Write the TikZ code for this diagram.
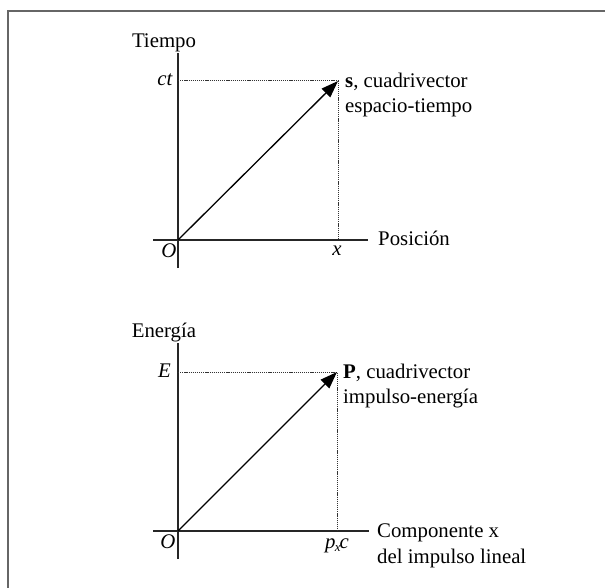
\documentclass[tikz,border=0pt]{standalone}
\usepackage{fontspec}
\setmainfont{Liberation Serif}
\usetikzlibrary{arrows.meta}
\begin{document}
\begin{tikzpicture}[x=1pt,y=-1pt,
  lbl/.style={font=\fontsize{20.8}{25}\selectfont, inner sep=0pt},
  axis/.style={line width=1.4pt, black!85},
  guide/.style={line width=1pt, black!80, dash pattern=on 1.2pt off 0.9pt},
  vec/.style={line width=1.3pt, -{Triangle[length=17pt,width=12pt]}},
  frame/.style={line width=2pt, black!60}]
\useasboundingbox (0,0) rectangle (605,588);
\draw[frame] (7.5,588) -- (7.5,11) -- (605,11);

% ---- top diagram
\coordinate (o1) at (178,240);
\coordinate (yt1) at (178,53);
\coordinate (yb1) at (178,268);
\coordinate (xl1) at (153,240);
\coordinate (xr1) at (368,240);
\coordinate (s) at (338,81);
\coordinate (ct) at (178,81);
\coordinate (xp) at (338,240);
\draw[axis] (yb1) -- (yt1);
\draw[axis] (xl1) -- (xr1);
\draw[guide] (ct) -- (s) -- (xp);
\draw[vec] (o1) -- (s);
\node[lbl, anchor=base] (tiempo) at (164,48) {Tiempo};
\node[lbl, anchor=base east] (ctl) at (173,86) {\textit{ct}};
\node[lbl, anchor=base] (O1) at (169,257) {\textit{O}};
\node[lbl, anchor=base] (xl) at (337,255) {\textit{x}};
\node[lbl, anchor=base west] (pos) at (378,246) {Posición};
\node[lbl, anchor=base west] (s1) at (345,88) {\textbf{s}, cuadrivector};
\node[lbl, anchor=base west] (s2) at (345,113) {espacio-tiempo};

% ---- bottom diagram
\coordinate (o2) at (178,531);
\coordinate (yt2) at (178,343);
\coordinate (yb2) at (178,559);
\coordinate (xl2) at (153,531);
\coordinate (xr2) at (369,531);
\coordinate (P) at (337,372);
\coordinate (El) at (178,372);
\coordinate (pp) at (337,531);
\draw[axis] (yb2) -- (yt2);
\draw[axis] (xl2) -- (xr2);
\draw[guide] (El) -- (P) -- (pp);
\draw[vec] (o2) -- (P);
\node[lbl, anchor=base] (energia) at (164,337) {Energía};
\node[lbl, anchor=base east] (Elab) at (171,377) {\textit{E}};
\node[lbl, anchor=base] (O2) at (168,548) {\textit{O}};
\node[lbl, anchor=base] (pxc) at (337,548) {\textit{p}\kern-0.5pt\raisebox{-0.35ex}{\fontsize{13}{13}\selectfont\textit{x}}\kern-1pt\textit{c}};
\node[lbl, anchor=base west] (P1) at (343,378) {\textbf{P}, cuadrivector};
\node[lbl, anchor=base west] (P2) at (343,403) {impulso-energía};
\node[lbl, anchor=base west] (c1) at (377,537) {Componente x};
\node[lbl, anchor=base west] (c2) at (377,563) {del impulso lineal};
\end{tikzpicture}
\end{document}
